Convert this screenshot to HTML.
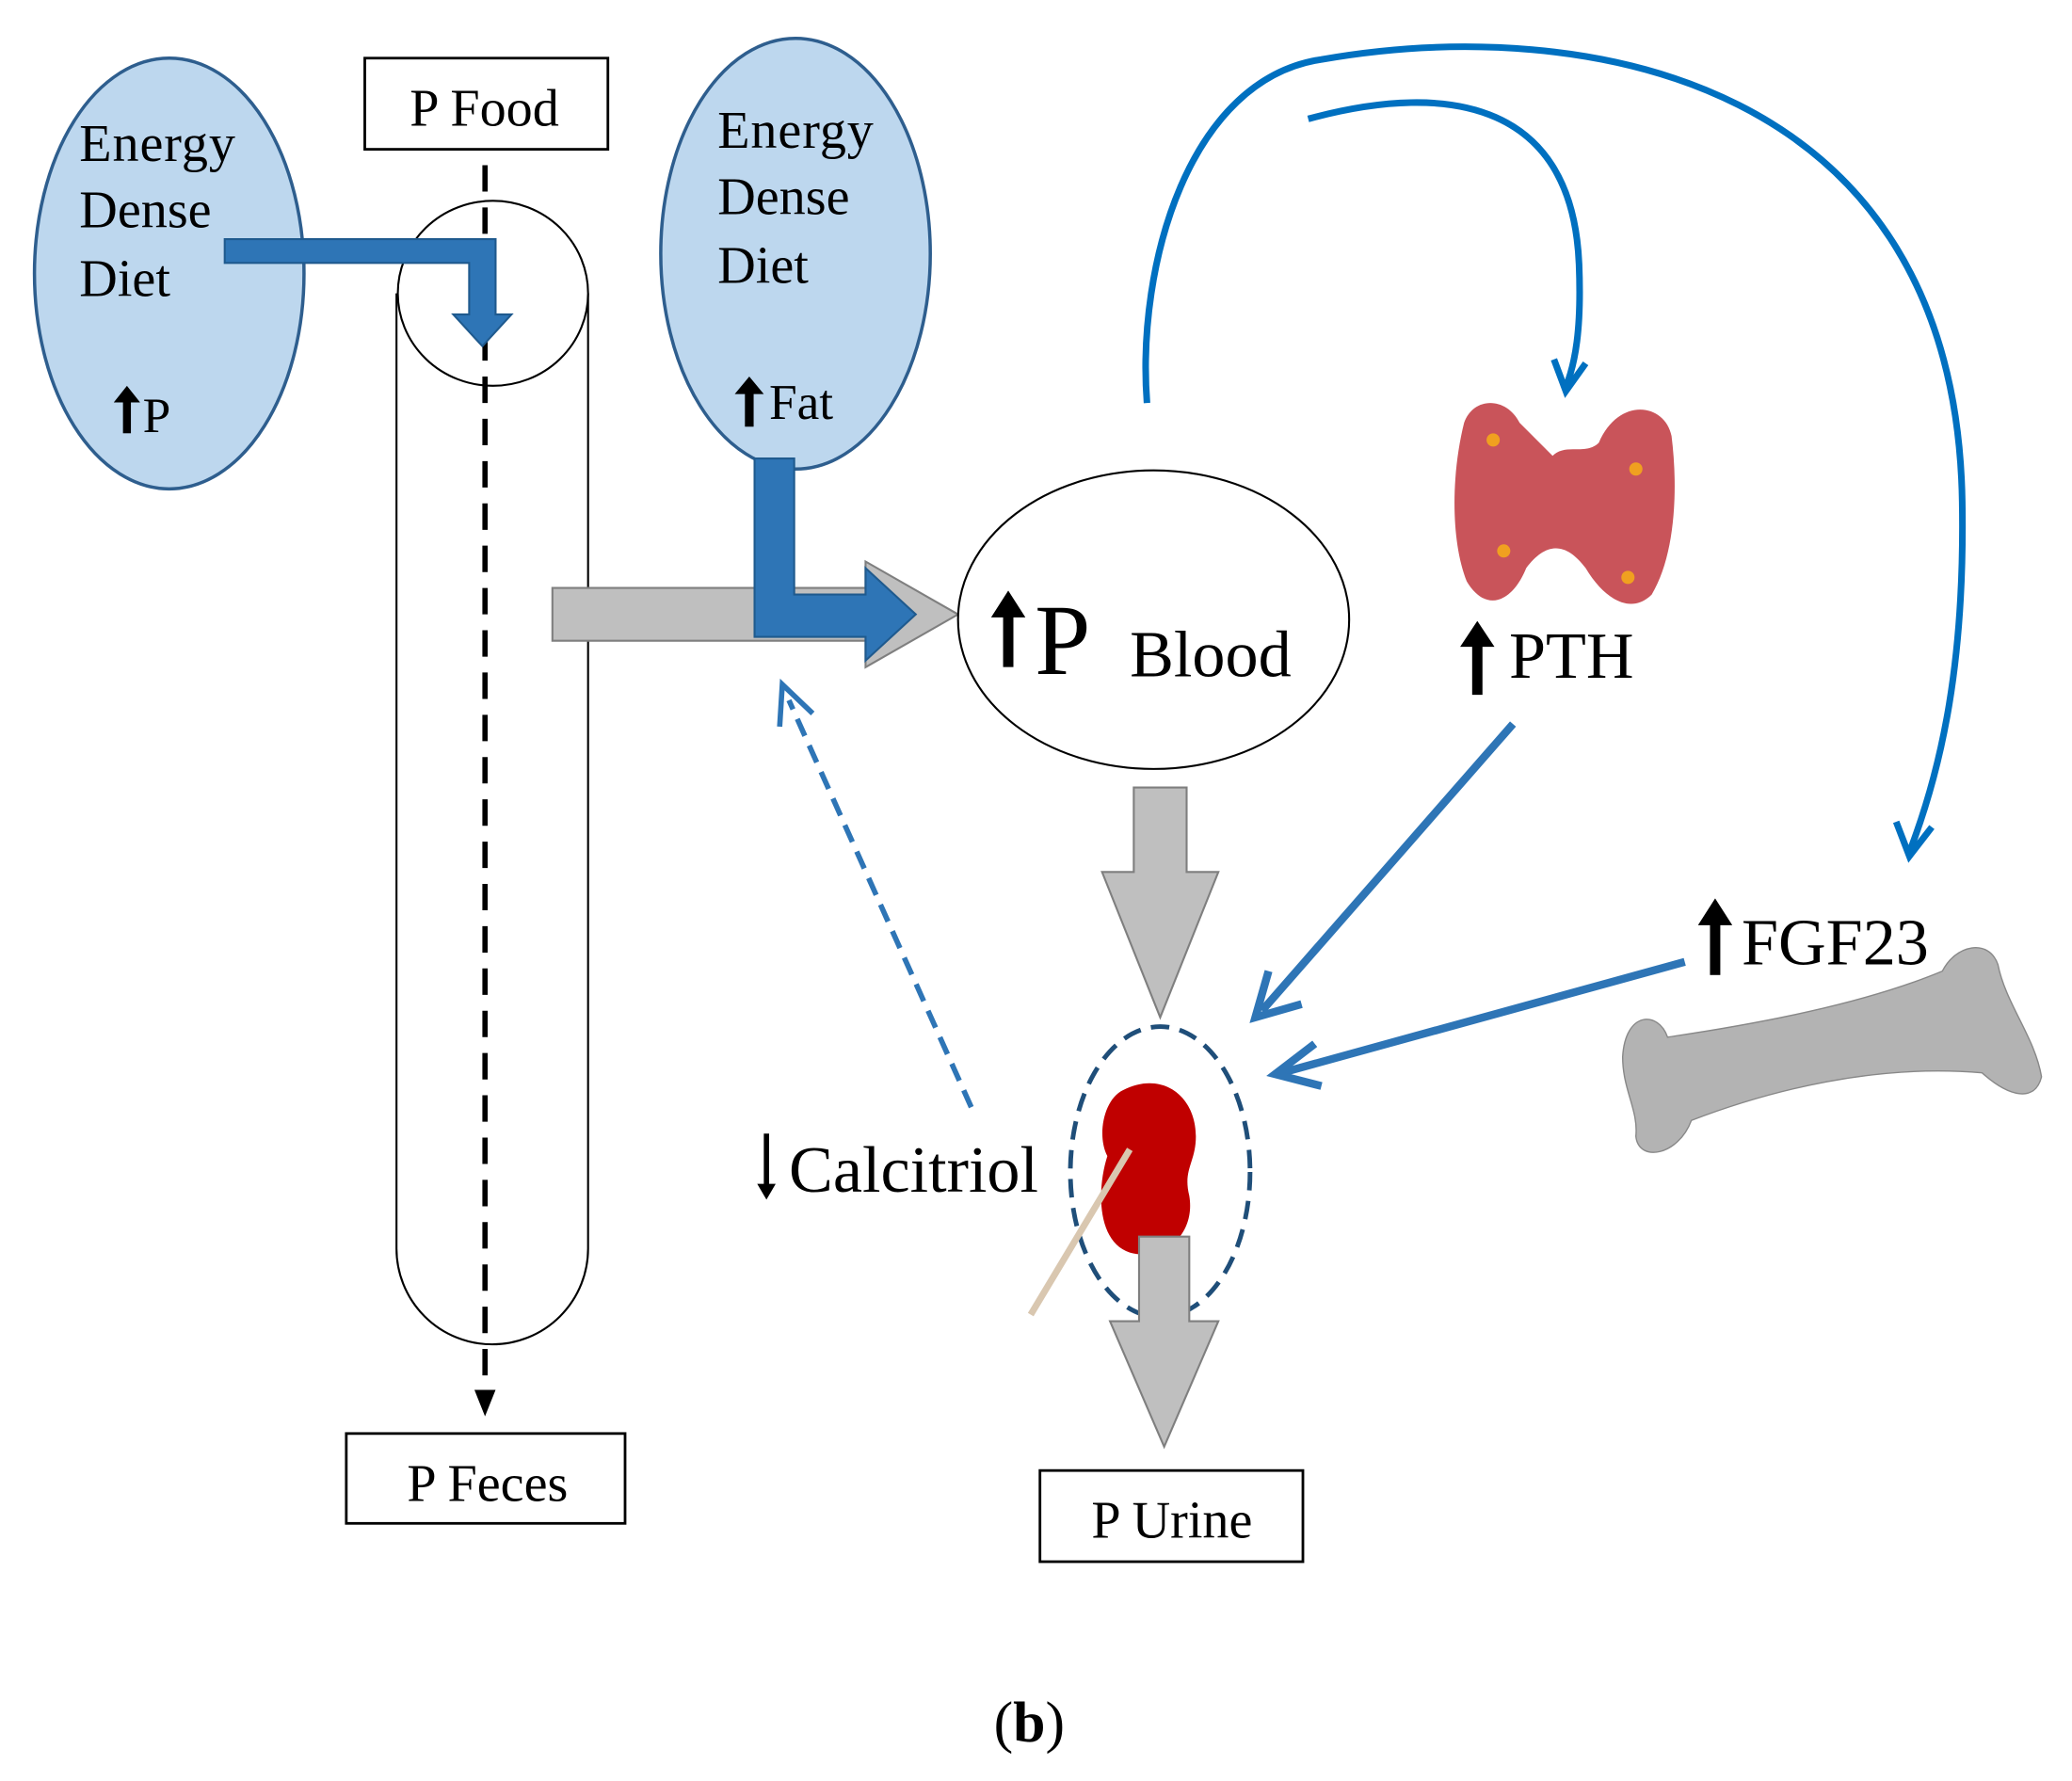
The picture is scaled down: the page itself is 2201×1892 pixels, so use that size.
<!DOCTYPE html>
<html><head><meta charset="utf-8"><style>
html,body{margin:0;padding:0;background:#fff}
svg{display:block}
text{font-family:"Liberation Serif",serif;fill:#000}
</style></head><body>
<svg width="2201" height="1892" viewBox="0 0 1568 1348" xmlns="http://www.w3.org/2000/svg">
<defs>
<symbol id="up" viewBox="0 0 20 40" preserveAspectRatio="none">
<polygon points="10,0 20,14 13,14 13,40 7,40 7,14 0,14" fill="#000"/>
</symbol>
</defs>
<!-- left ellipse -->
<ellipse cx="128" cy="207" rx="102" ry="163" fill="#bdd7ee" stroke="#2e5e8e" stroke-width="2.5"/>
<text x="60" y="122" font-size="40" textLength="118">Energy</text>
<text x="60" y="172" font-size="40">Dense</text>
<text x="60" y="224" font-size="40">Diet</text>
<use href="#up" x="86" y="292" width="20" height="36"/>
<text x="108" y="327" font-size="38">P</text>
<!-- P Food -->
<rect x="276" y="44" width="184" height="69" fill="#fff" stroke="#000" stroke-width="2"/>
<text x="310" y="95" font-size="40">P Food</text>
<!-- tube -->
<path d="M300 222 L300 945 A72 72 0 0 0 445 945 L445 222" fill="none" stroke="#000" stroke-width="1.5"/>
<ellipse cx="373" cy="222" rx="72" ry="70" fill="#fff" stroke="#000" stroke-width="1.5"/>
<line x1="367" y1="125" x2="367" y2="1055" stroke="#000" stroke-width="4" stroke-dasharray="20,12"/>
<polygon points="359,1052 375,1052 367,1072" fill="#000"/>
<rect x="262" y="1085" width="211" height="68" fill="#fff" stroke="#000" stroke-width="2"/>
<text x="308" y="1136" font-size="40">P Feces</text>
<!-- blue L arrow left -->
<path d="M170 181 L375 181 L375 238 L387 238 L365 262 L343 238 L355 238 L355 199 L170 199 Z" fill="#2e75b6" stroke="#1f5a8e" stroke-width="1.5"/>
<!-- right ellipse -->
<ellipse cx="602" cy="192" rx="102" ry="163" fill="#bdd7ee" stroke="#2e5e8e" stroke-width="2.5"/>
<text x="543" y="112" font-size="40" textLength="118">Energy</text>
<text x="543" y="162" font-size="40">Dense</text>
<text x="543" y="214" font-size="40">Diet</text>
<use href="#up" x="556" y="285" width="22" height="38"/>
<text x="582" y="317" font-size="38">Fat</text>
<!-- gray arrow -->
<path d="M418 445 L655 445 L655 425 L725 465 L655 505 L655 485 L418 485 Z" fill="#bfbfbf" stroke="#7f7f7f" stroke-width="1.5"/>
<!-- blue arrow from fat -->
<path d="M571 347 L601 347 L601 450 L655 450 L655 430 L693 465 L655 500 L655 482 L571 482 Z" fill="#2e75b6" stroke="#1f5a8e" stroke-width="1.5"/>
<!-- blood -->
<ellipse cx="873" cy="469" rx="148" ry="113" fill="#fff" stroke="#000" stroke-width="1.5"/>
<use href="#up" x="750" y="447" width="26" height="58"/>
<text x="783" y="510" font-size="76">P</text>
<text x="855" y="512" font-size="50">Blood</text>
<!-- gray down arrow -->
<path d="M858 596 L898 596 L898 660 L922 660 L878 770 L834 660 L858 660 Z" fill="#bfbfbf" stroke="#7f7f7f" stroke-width="1.5"/>
<!-- arcs -->
<path d="M868 305 C860 200 900 60 1000 45 C1200 10 1480 60 1485 380 C1487 500 1470 580 1445 645" fill="none" stroke="#0070c0" stroke-width="5"/>
<polyline points="1435,622 1445,648 1462,626" fill="none" stroke="#0070c0" stroke-width="5"/>
<path d="M990 90 C1100 60 1190 80 1195 200 C1197 250 1192 275 1185 293" fill="none" stroke="#0070c0" stroke-width="5"/>
<polyline points="1176,272 1185,296 1200,275" fill="none" stroke="#0070c0" stroke-width="5"/>
<!-- thyroid -->
<path d="M1108 320 C1115 300 1140 300 1150 320 L1175 345 C1185 335 1200 345 1210 335 C1225 300 1260 305 1265 330 C1270 370 1268 420 1250 450 C1235 465 1215 455 1200 430 C1185 410 1170 410 1155 430 C1145 455 1125 465 1110 440 C1098 410 1098 360 1108 320 Z" fill="#c9545a"/>
<circle cx="1130" cy="333" r="5" fill="#f0a020"/><circle cx="1238" cy="355" r="5" fill="#f0a020"/>
<circle cx="1138" cy="417" r="5" fill="#f0a020"/><circle cx="1232" cy="437" r="5" fill="#f0a020"/>
<use href="#up" x="1105" y="470" width="26" height="56"/>
<text x="1142" y="513" font-size="50">PTH</text>
<line x1="1145" y1="548" x2="955" y2="765" stroke="#2e75b6" stroke-width="6"/>
<polyline points="960,735 950,770 985,760" fill="none" stroke="#2e75b6" stroke-width="6"/>
<!-- FGF23 -->
<use href="#up" x="1285" y="680" width="26" height="58"/>
<text x="1318" y="730" font-size="50">FGF23</text>
<line x1="1275" y1="728" x2="970" y2="812" stroke="#2e75b6" stroke-width="6"/>
<polyline points="995,790 965,813 1000,822" fill="none" stroke="#2e75b6" stroke-width="6"/>
<!-- bone -->
<path d="M1228 800 C1230 765 1255 765 1262 785 C1330 775 1410 760 1470 735 C1480 715 1505 710 1512 730 C1518 760 1540 785 1545 815 C1540 835 1520 830 1500 812 C1420 805 1340 825 1280 848 C1270 875 1240 880 1238 860 C1240 840 1228 825 1228 800 Z" fill="#b3b3b3" stroke="#888" stroke-width="1"/>
<!-- kidney region -->
<ellipse cx="878" cy="887" rx="68" ry="110" fill="none" stroke="#1f4e79" stroke-width="3.5" stroke-dasharray="14,8"/>
<path d="M850 825 C880 810 905 830 905 860 C905 880 895 885 900 905 C905 935 880 955 855 948 C830 940 830 900 838 875 C830 860 835 832 850 825 Z" fill="#c00000"/>
<line x1="855" y1="870" x2="780" y2="995" stroke="#d9c7b0" stroke-width="5"/>
<path d="M862 936 L900 936 L900 1000 L922 1000 L881 1095 L840 1000 L862 1000 Z" fill="#bfbfbf" stroke="#7f7f7f" stroke-width="1.5"/>
<rect x="787" y="1113" width="199" height="69" fill="#fff" stroke="#000" stroke-width="2"/>
<text x="826" y="1164" font-size="40">P Urine</text>
<!-- calcitriol -->
<polygon points="578,858 582,858 582,896 587,896 580,908 573,896 578,896" fill="#000"/>
<text x="597" y="902" font-size="50">Calcitriol</text>
<line x1="735" y1="838" x2="597" y2="530" stroke="#2e75b6" stroke-width="4" stroke-dasharray="14,8"/>
<polyline points="590,550 592,518 615,540" fill="none" stroke="#2e75b6" stroke-width="4"/>
<text x="752" y="1318" font-size="44">(<tspan font-weight="bold">b</tspan>)</text>
</svg>
</body></html>
